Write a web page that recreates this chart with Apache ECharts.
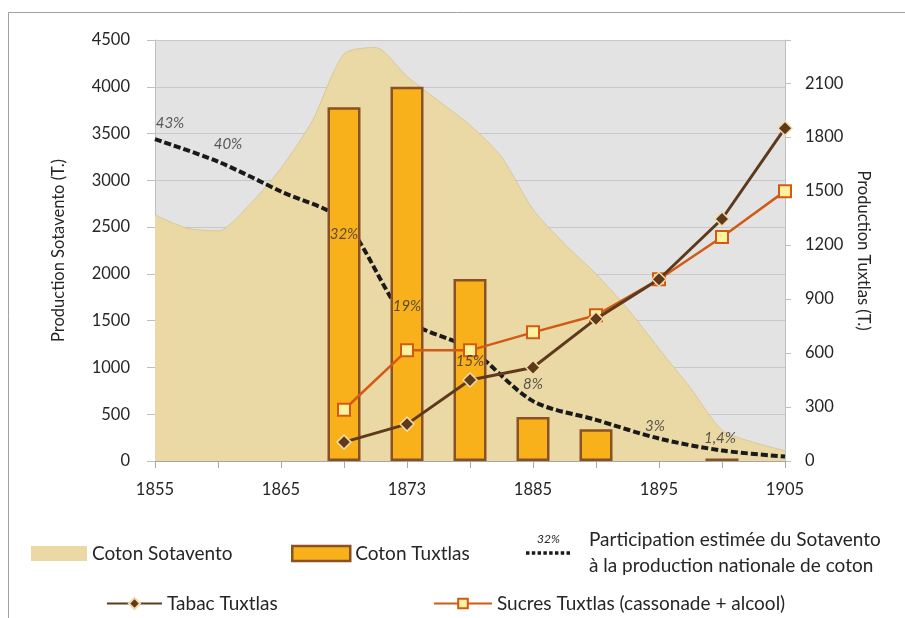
<!DOCTYPE html>
<html>
<head>
<meta charset="utf-8">
<script src="https://cdn.jsdelivr.net/npm/echarts/dist/echarts.min.js"></script>
<style>
  html, body { margin: 0; padding: 0; background: #ffffff; }
  #chart { width: 905px; height: 618px; }
</style>
</head>
<body>
<div id="chart"></div>
<script>
// Survey years used by the bars and lines
const years = ['1855', '1860', '1865', '1869', '1873', '1880', '1885', '1890', '1895', '1900', '1905'];

// Finer sampling for the Sotavento cotton production outline
const areaYears = ['1855', '1857', '1860', '1862', '1865', '1867', '1869', '1871', '1873', '1876', '1880',
                   '1882', '1885', '1887', '1890', '1892', '1895', '1897', '1900', '1902', '1905'];
const cotonSotavento = [2630, 2490, 2460, 2740, 3130, 3640, 4350, 4420, 4110, 3850, 3590,
                        3250, 2690, 2320, 2000, 1630, 1200, 780, 330, 200, 110];

// Tuxtlas production (tonnes)
const cotonTuxtlas = [null, null, null, 3780, 4000, 1945, 470, 340, null, 28, null];
const tabacTuxtlas = [null, null, null, 105, 205, 450, 520, 790, 1010, 1345, 1850];
const sucresTuxtlas = [null, null, null, 285, 615, 615, 715, 810, 1010, 1245, 1500];

// Estimated share of Sotavento in national cotton production (%)
const participation = [43, 40, 36, 32, 19, 15, 8, 5.5, 3, 1.4, 0.6];
const participationLabels = ['43%', '40%', '', '32%', '19%', '15%', '8%', '', '3%', '1,4%', ''];

// Tick values of both value axes
const leftTicks = { min: 0, max: 4500, step: 500 };
const rightTicks = { min: 0, max: 2340, step: 300 };

const FONT = 'Lato, "Open Sans", sans-serif';
const TEXT = '#262626';
const AXIS_GREY = '#BFBFBF';

// label placement for the percentage annotations
const labelPlace = {
  '1855': { position: 'top', offset: [15, -4] },
  '1860': { position: 'top', offset: [10, -5] },
  '1869': { position: 'bottom', offset: [0, 0] },
  '1873': { position: 'top', offset: [0, 0] },
  '1880': { position: 'bottom', offset: [0, 0] },
  '1885': { position: 'top', offset: [0, -4] },
  '1895': { position: 'top', offset: [-4, 0] },
  '1900': { position: 'top', offset: [-2, 0] }
};

const pctLabelData = participation.map(function (v, i) {
  const txt = participationLabels[i];
  const place = labelPlace[years[i]] || { position: 'top', offset: [0, 0] };
  return {
    value: v,
    label: {
      show: txt !== '',
      formatter: txt,
      position: place.position,
      offset: place.offset
    }
  };
});

const PARTICIPATION_NAME = 'Participation estimée du Sotavento à la production nationale de coton';

// small dotted swatch for the participation legend entry
const DOTTED_ICON = 'path://M0,0h3v3h-3z M5,0h3v3h-3z M10,0h3v3h-3z M15,0h3v3h-3z ' +
                    'M20,0h3v3h-3z M25,0h3v3h-3z M30,0h3v3h-3z M35,0h3v3h-3z';

const chart = echarts.init(document.getElementById('chart'), null, { renderer: 'canvas' });

const legendText = { fontFamily: FONT, fontSize: 19, color: TEXT };

chart.setOption({
  animation: false,
  backgroundColor: '#ffffff',
  textStyle: { fontFamily: FONT },
  grid: {
    left: 155, right: 120, top: 40, bottom: 157,
    show: true, backgroundColor: '#E3E3E3', borderWidth: 0,
    containLabel: false
  },
  graphic: [
    {
      type: 'polyline',
      shape: { points: [[8.5, 618], [8.5, 12.5], [905, 12.5]] },
      style: { stroke: '#A0A0A0', lineWidth: 1, fill: null },
      silent: true
    },
    {
      type: 'text',
      left: 537, top: 533,
      style: { text: '32%', font: 'italic 12px ' + FONT, fill: TEXT },
      silent: true
    }
  ],
  xAxis: [
    {
      type: 'category',
      data: years,
      boundaryGap: false,
      axisLine: { lineStyle: { color: '#A6A6A6', width: 1 } },
      axisTick: { show: true, interval: 0, length: 7, lineStyle: { color: '#A6A6A6' } },
      axisLabel: { interval: 1, margin: 20, fontSize: 16.5, color: TEXT, fontFamily: FONT },
      splitLine: { show: false }
    },
    {
      type: 'category',
      data: areaYears,
      boundaryGap: false,
      show: false
    }
  ],
  yAxis: [
    {
      type: 'value',
      position: 'left',
      min: leftTicks.min, max: leftTicks.max, interval: leftTicks.step,
      name: 'Production Sotavento (T.)',
      nameLocation: 'middle',
      nameGap: 88,
      nameTextStyle: { fontSize: 16.5, color: TEXT, fontFamily: FONT },
      axisLine: { show: true, lineStyle: { color: AXIS_GREY } },
      axisTick: { show: true, length: 8, lineStyle: { color: AXIS_GREY } },
      axisLabel: {
        margin: 25, fontSize: 16.5, color: TEXT, fontFamily: FONT,
        formatter: function (v) { return String(v); }
      },
      splitLine: { show: true, lineStyle: { color: '#C8C8C8', width: 1 } }
    },
    {
      type: 'value',
      position: 'right',
      min: rightTicks.min, max: rightTicks.max, interval: rightTicks.step,
      name: 'Production Tuxtlas (T.)',
      nameLocation: 'middle',
      nameRotate: -90,
      nameGap: 70,
      nameTextStyle: { fontSize: 16.5, color: TEXT, fontFamily: FONT },
      axisLine: { show: true, lineStyle: { color: AXIS_GREY } },
      axisTick: { show: true, length: 6, lineStyle: { color: AXIS_GREY } },
      axisLabel: {
        margin: 20, fontSize: 16.5, color: TEXT, fontFamily: FONT,
        formatter: function (v) { return v % rightTicks.step === 0 ? String(v) : ''; }
      },
      splitLine: { show: false }
    },
    {
      type: 'value',
      min: 0, max: 56.25,
      show: false
    }
  ],
  legend: [
    {
      left: 31, top: 544, padding: 0, itemWidth: 56, itemHeight: 15,
      textStyle: legendText,
      data: [{ name: 'Coton Sotavento', icon: 'rect', itemStyle: { color: '#EBD9A5', borderWidth: 0 } }]
    },
    {
      left: 291, top: 544, padding: 0, itemWidth: 58, itemHeight: 15,
      textStyle: legendText,
      data: [{ name: 'Coton Tuxtlas', icon: 'rect',
               itemStyle: { color: '#F8B11B', borderColor: '#8A5224', borderWidth: 2.5 } }]
    },
    {
      left: 526, top: 527, padding: 0, itemWidth: 44, itemHeight: 4,
      textStyle: { fontFamily: FONT, fontSize: 19, color: TEXT, lineHeight: 26, padding: [0, 0, 0, 14] },
      formatter: function () {
        return 'Participation estimée du Sotavento\nà la production nationale de coton';
      },
      data: [{ name: PARTICIPATION_NAME, icon: DOTTED_ICON,
               itemStyle: { color: '#1A1A1A', borderWidth: 0 } }]
    },
    {
      left: 106, top: 594, padding: 0, itemWidth: 55, itemHeight: 14,
      textStyle: legendText,
      data: [{ name: 'Tabac Tuxtlas' }]
    },
    {
      left: 433, top: 594, padding: 0, itemWidth: 58, itemHeight: 12,
      textStyle: legendText,
      data: [{ name: 'Sucres Tuxtlas (cassonade + alcool)' }]
    }
  ],
  series: [
    {
      name: 'Coton Sotavento',
      type: 'line',
      xAxisIndex: 1,
      yAxisIndex: 0,
      data: cotonSotavento,
      smooth: 0.25,
      symbol: 'none',
      color: '#EBD9A5',
      lineStyle: { width: 0.8, color: '#D6C38C' },
      areaStyle: { color: '#EBD9A5', opacity: 1 },
      z: 1,
      silent: true
    },
    {
      name: PARTICIPATION_NAME,
      type: 'line',
      xAxisIndex: 0,
      yAxisIndex: 2,
      data: participation,
      smooth: 0.3,
      symbol: 'none',
      color: '#1A1A1A',
      lineStyle: { color: '#1A1A1A', width: 4, type: [7, 3] },
      z: 2
    },
    {
      name: 'Coton Tuxtlas',
      type: 'bar',
      xAxisIndex: 0,
      yAxisIndex: 0,
      data: cotonTuxtlas,
      barWidth: 33,
      itemStyle: { color: '#F8B11B', borderColor: '#8A5224', borderWidth: 2.5 },
      z: 3
    },
    {
      name: 'Sucres Tuxtlas (cassonade + alcool)',
      type: 'line',
      xAxisIndex: 0,
      yAxisIndex: 1,
      data: sucresTuxtlas,
      symbol: 'rect',
      symbolSize: 12,
      color: '#D35A14',
      itemStyle: { color: '#FFF29E', borderColor: '#D35A14', borderWidth: 2 },
      lineStyle: { color: '#D35A14', width: 2.5 },
      z: 4
    },
    {
      name: 'Tabac Tuxtlas',
      type: 'line',
      xAxisIndex: 0,
      yAxisIndex: 1,
      data: tabacTuxtlas,
      symbol: 'diamond',
      symbolSize: 14,
      color: '#5E3A1D',
      itemStyle: { color: '#5E3A1D', borderColor: '#F3D9A6', borderWidth: 1.5 },
      lineStyle: { color: '#5E3A1D', width: 3 },
      z: 5
    },
    {
      name: 'participation-labels',
      type: 'scatter',
      xAxisIndex: 0,
      yAxisIndex: 2,
      data: pctLabelData,
      symbolSize: 0,
      itemStyle: { color: 'rgba(0,0,0,0)' },
      label: {
        show: true,
        distance: 5,
        fontFamily: FONT,
        fontStyle: 'italic',
        fontSize: 15,
        color: '#333333'
      },
      silent: true,
      z: 6
    }
  ]
});
</script>
</body>
</html>
